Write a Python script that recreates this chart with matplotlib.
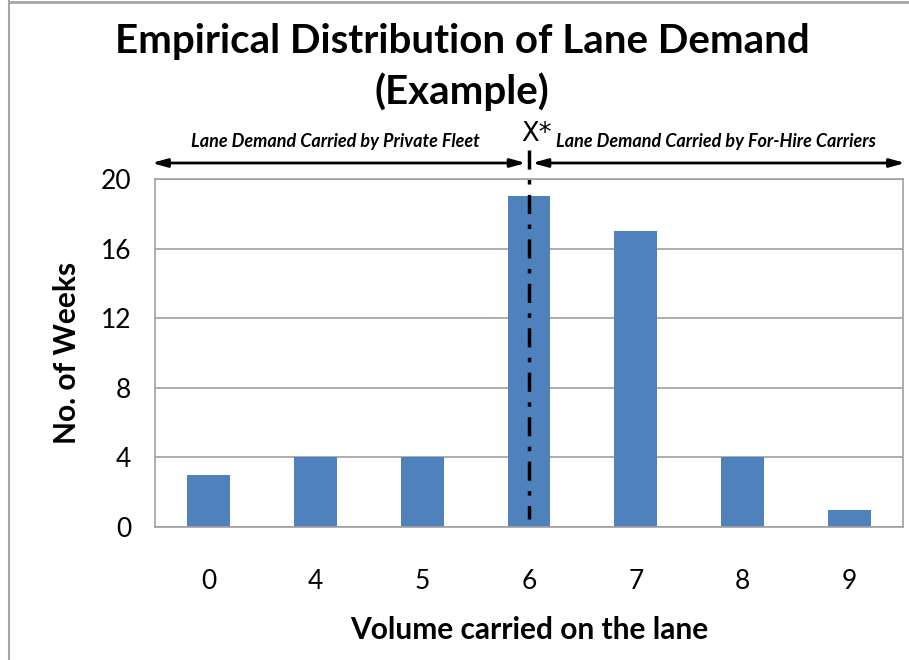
import matplotlib
matplotlib.use("Agg")
import matplotlib.pyplot as plt
import matplotlib.transforms as mtransforms
from matplotlib.lines import Line2D

categories = ["0", "4", "5", "6", "7", "8", "9"]
weeks = [3, 4, 4, 19, 17, 4, 1]
yticks = [0, 4, 8, 12, 16, 20]
xstar_category = "6"

title = "Empirical Distribution of Lane Demand\n(Example)"
left_text = "Lane Demand Carried by Private Fleet"
right_text = "Lane Demand Carried by For-Hire Carriers"

plt.rcParams['font.family'] = ['Lato', 'DejaVu Sans']

W, H = 909, 660
fig = plt.figure(figsize=(W / 100, H / 100), dpi=100)
fig.patch.set_facecolor("white")

# outer border (top and left visible)
fig.add_artist(Line2D([9 / W, 9 / W], [0, 1 - 1 / H], transform=fig.transFigure, color="#a6a6a6", lw=1.5))
fig.add_artist(Line2D([9 / W, 1], [1 - 1.5 / H, 1 - 1.5 / H], transform=fig.transFigure, color="#a6a6a6", lw=2))

ax = fig.add_axes([155 / W, 1 - 527 / H, 748 / W, 348 / H])
x = list(range(len(categories)))
ax.bar(x, weeks, width=0.4, color="#4f81bd", zorder=2)
ax.set_xlim(-0.5, len(categories) - 0.5)
ax.set_ylim(0, 20)
ax.set_yticks(yticks)
ax.set_xticks(x)
ax.set_xticklabels(categories)
ax.tick_params(axis="both", length=0, labelsize=19, colors="black")
ax.tick_params(axis="x", pad=30)
ax.tick_params(axis="y", pad=17)
ax.yaxis.grid(True, color="#a0a0a0", lw=1.2, zorder=0)
ax.set_axisbelow(True)
for s in ax.spines.values():
    s.set_color("#a0a0a0")
    s.set_linewidth(1.2)

ax.set_xlabel("Volume carried on the lane", fontsize=21.5, fontweight="bold", labelpad=16)
ax.set_ylabel("No. of Weeks", fontsize=21.5, fontweight="bold", labelpad=14)

fig.text(462 / W, 1 - 67 / H, title, ha="center", va="center", fontsize=29,
         fontweight="bold", linespacing=1.42)

xs = categories.index(xstar_category)
trans = mtransforms.blended_transform_factory(ax.transData, ax.transAxes)
arrow_y = (527 - 163) / 348
ax.annotate("", xy=(-0.53, arrow_y), xytext=(xs - 0.03, arrow_y), xycoords=trans, textcoords=trans,
            arrowprops=dict(arrowstyle="<|-|>,head_length=0.9,head_width=0.25", color="black", lw=2,
                            shrinkA=0, shrinkB=0), annotation_clip=False)
ax.annotate("", xy=(xs + 0.03, arrow_y), xytext=(len(categories) - 0.48, arrow_y), xycoords=trans, textcoords=trans,
            arrowprops=dict(arrowstyle="<|-|>,head_length=0.9,head_width=0.25", color="black", lw=2,
                            shrinkA=0, shrinkB=0), annotation_clip=False)

ax.plot([xs, xs], [(527 - 150) / 348, (527 - 519) / 348], transform=trans, color="black", lw=2.5,
        linestyle=(0, (5.5, 3.0, 1.3, 3.0)), clip_on=False, zorder=5)

ax.text(xs + 0.07, (527 - 134) / 348, "X*", transform=trans, ha="center", va="center", fontsize=18.5,
        family="DejaVu Sans")
fig.text(335 / W, 1 - 142 / H, left_text, ha="center", va="center", fontsize=13,
         fontweight="bold", style="italic")
fig.text(716 / W, 1 - 142 / H, right_text, ha="center", va="center", fontsize=13,
         fontweight="bold", style="italic")

fig.savefig("out.png", dpi=100, facecolor="white")
